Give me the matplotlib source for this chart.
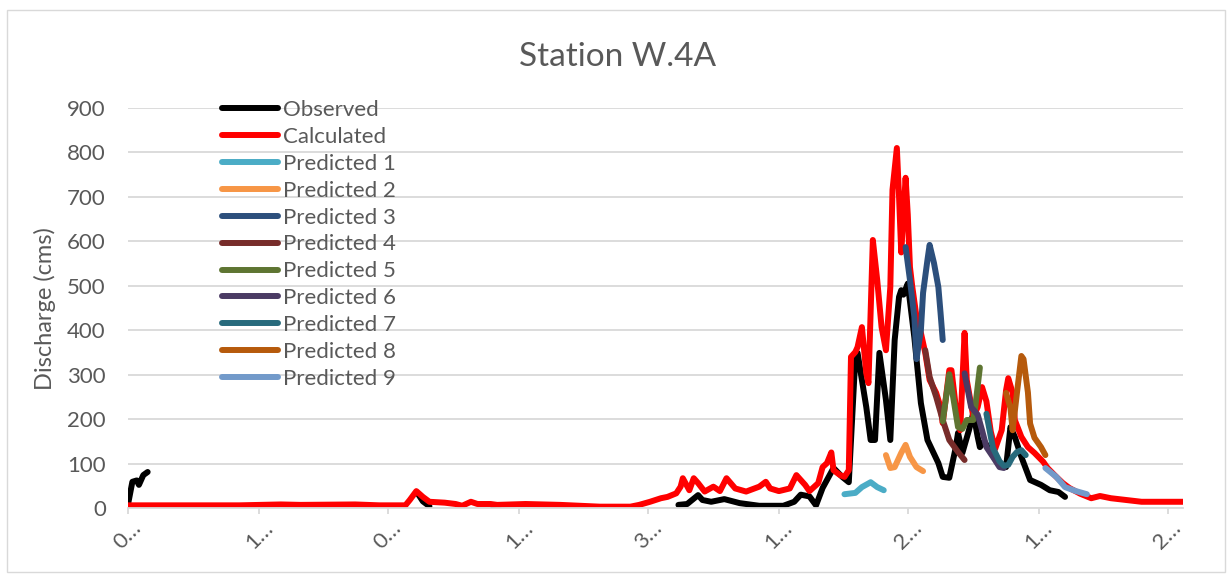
import numpy as np
import matplotlib
matplotlib.use("Agg")
import matplotlib.pyplot as plt
import matplotlib.transforms as mtransforms
from matplotlib.patches import Rectangle

plt.rcParams['font.family'] = ['Lato', 'DejaVu Sans']

nan = np.nan

# Category axis (dates, shown truncated)
tick_days = [0, 60, 119, 179, 238, 298, 357, 417, 476]
tick_labels = ["0…", "1…", "0…", "1…", "3…", "1…", "2…", "1…", "2…"]
yticks = [0, 100, 200, 300, 400, 500, 600, 700, 800, 900]

# Observed discharge (gaps are missing records)
obs_day = [0, 2, 4, 5, 6, 7, 9, 10,
           133, 135, 138, 139,
           167, 170, 171,
           252, 256, 261, 263, 267, 273, 280, 289, 300, 305, 308, 312, 315,
           318, 320, 323, 327, 330, 333, 334, 338, 340, 342, 344, 347, 349,
           351, 353, 354, 355, 357, 360, 363, 366, 371, 373, 376, 379, 380,
           382, 385, 387, 389, 390, 392, 397, 399, 402, 404, 406, 409, 413,
           418, 422, 426, 429]
obs_q = [8, 59, 62, 52, 63, 74, 81, nan,
         30, 15, 4, nan,
         5, 6, nan,
         7, 9, 29, 18, 14, 20, 11, 5, 5, 14, 30, 26, 6,
         45, 63, 90, 70, 58, 340, 349, 227, 153, 153, 349, 243, 153,
         378, 475, 490, 480, 505, 384, 236, 153, 101, 70, 68, 137, 169,
         124, 175, 214, 160, 137, 150, 110, 101, 92, 182, 160, 115, 63,
         52, 40, 36, 25]

# Calculated discharge
calc_day = [0, 15, 33, 51, 70, 79, 104, 115, 127, 129, 132, 135, 138, 145,
            150, 153, 157, 160, 166, 169, 182, 198, 216, 230, 234, 239, 244,
            247, 251, 253, 254, 257, 259, 261, 264, 268, 271, 274, 278, 283,
            289, 292, 294, 298, 303, 306, 310, 312, 316, 318, 320, 322, 323,
            326, 328, 330, 331, 333, 334, 336, 338, 339, 341, 343, 345, 347,
            349, 350, 352, 353, 354, 356, 357, 358, 359, 361, 363, 365, 367,
            370, 372, 373, 376, 377, 379, 381, 383, 384, 387, 389, 391, 393,
            395, 397, 400, 402, 403, 405, 406, 409, 412, 415, 419, 421, 425,
            428, 431, 436, 441, 445, 450, 457, 464, 483]
calc_q = [6, 6, 6, 6, 8, 7, 8, 6, 6, 18, 38, 25, 14, 12,
          9, 5, 14, 9, 9, 7, 9, 7, 3, 3, 7, 14, 22,
          25, 33, 48, 67, 40, 67, 56, 37, 48, 38, 67, 44, 37,
          48, 59, 44, 38, 44, 74, 52, 38, 56, 92, 101, 125, 85,
          74, 70, 85, 340, 351, 362, 407, 303, 281, 603, 513, 407, 355,
          497, 716, 810, 700, 575, 743, 660, 542, 500, 430, 394, 349, 288,
          259, 227, 191, 310, 310, 227, 175, 394, 288, 205, 227, 272, 240,
          172, 133, 175, 265, 292, 259, 198, 160, 137, 124, 104, 90, 70,
          56, 45, 32, 22, 27, 22, 18, 14, 14]

# Forecast runs
pred1_day = [328, 333, 336, 340, 343, 346]
pred1_q = [31, 34, 47, 58, 47, 40]
pred2_day = [347, 349, 351, 354, 356, 358, 361, 364]
pred2_q = [119, 90, 92, 124, 142, 115, 92, 83]
pred3_day = [356, 358, 360, 361, 363, 364, 366, 367, 369, 371, 372, 373]
pred3_q = [587, 513, 430, 335, 400, 484, 558, 592, 551, 497, 439, 378]
pred4_day = [365, 367, 370, 373, 376, 380, 383]
pred4_q = [355, 295, 250, 198, 153, 126, 108]
pred5_day = [373, 376, 378, 380, 382, 384, 387, 388, 390]
pred5_q = [195, 301, 243, 182, 178, 198, 198, 232, 316]
pred6_day = [383, 386, 389, 391, 393, 396, 399, 401]
pred6_q = [303, 227, 210, 175, 137, 115, 92, 90]
pred7_day = [393, 396, 399, 401, 403, 405, 407, 409, 411]
pred7_q = [212, 135, 105, 95, 97, 115, 126, 130, 119]
pred8_day = [402, 404, 405, 407, 409, 410, 412, 413, 415, 418, 420]
pred8_q = [259, 225, 175, 260, 342, 335, 260, 190, 158, 137, 119]
pred9_day = [420, 425, 429, 434, 439]
pred9_q = [90, 70, 47, 38, 31]

series = [
    ("Observed", obs_day, obs_q, "#000000"),
    ("Calculated", calc_day, calc_q, "#FF0000"),
    ("Predicted 1", pred1_day, pred1_q, "#4BACC6"),
    ("Predicted 2", pred2_day, pred2_q, "#F79646"),
    ("Predicted 3", pred3_day, pred3_q, "#2C4F7C"),
    ("Predicted 4", pred4_day, pred4_q, "#772C2A"),
    ("Predicted 5", pred5_day, pred5_q, "#5E7532"),
    ("Predicted 6", pred6_day, pred6_q, "#4B3B64"),
    ("Predicted 7", pred7_day, pred7_q, "#276A7C"),
    ("Predicted 8", pred8_day, pred8_q, "#B65A0C"),
    ("Predicted 9", pred9_day, pred9_q, "#729ACA"),
]

W, H = 1230, 574
fig = plt.figure(figsize=(W / 100, H / 100), dpi=100)
fig.patch.set_facecolor("white")

# chart-area outline
fig.patches.append(Rectangle((7 / W, 2 / H), (1225 - 7) / W, (H - 10 - 2) / H,
                             transform=fig.transFigure, fill=False,
                             edgecolor="#D9D9D9", linewidth=1.0))

ax = fig.add_axes([128 / W, (H - 508) / H, (1183 - 128) / W, 400 / H])

for name, d, q, c in series:
    ax.plot(d, q, color=c, linewidth=4.3, label=name,
            solid_capstyle="round", solid_joinstyle="round")

ax.set_xlim(0, 483)
ax.set_ylim(0, 900)
ax.set_yticks(yticks)
ax.set_xticks(tick_days)
ax.set_xticklabels(tick_labels, rotation=45, ha="center", va="top")
shift = mtransforms.ScaledTranslation(5 / 100, 0, fig.dpi_scale_trans)
for lab in ax.get_xticklabels():
    lab.set_transform(lab.get_transform() + shift)
ax.grid(axis="y", color="#D9D9D9", linewidth=1.3)
ax.set_axisbelow(True)
for s in ["left", "right", "top"]:
    ax.spines[s].set_visible(False)
ax.spines["bottom"].set_color("#D9D9D9")
ax.spines["bottom"].set_linewidth(1.3)
ax.tick_params(axis="y", length=0, pad=16, labelsize=16, labelcolor="#595959")
ax.tick_params(axis="x", length=4, width=1.3, color="#D9D9D9", pad=3,
               labelsize=16, labelcolor="#595959")

fig.text(618 / W, 1 - 57 / H, "Station W.4A", ha="center", va="center",
         fontsize=24, color="#595959")
fig.text(45 / W, 1 - 309 / H, "Discharge (cms)", ha="center", va="center",
         rotation=90, fontsize=17, color="#595959")

leg = ax.legend(loc="upper left", bbox_to_anchor=(222 / W, 1 - 100 / H),
                bbox_transform=fig.transFigure, frameon=False, fontsize=16,
                handlelength=2.52, handletextpad=0.22, labelspacing=0.31,
                borderpad=0, borderaxespad=0)
for t in leg.get_texts():
    t.set_color("#595959")
for l in leg.get_lines():
    l.set_linewidth(4.3)

fig.savefig("out.png", dpi=100, facecolor="white")
